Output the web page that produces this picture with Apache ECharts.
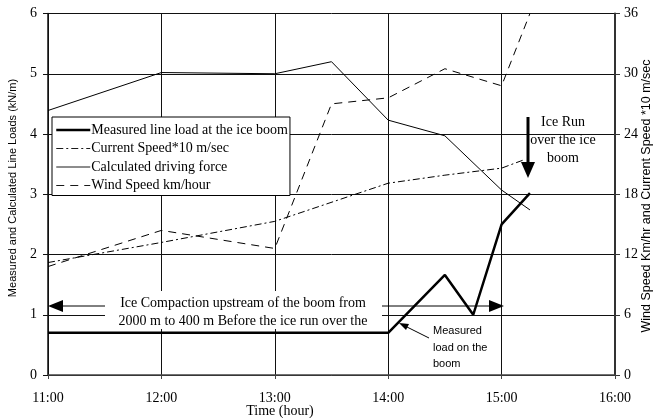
<!DOCTYPE html>
<html>
<head>
<meta charset="utf-8">
<script src="https://cdn.jsdelivr.net/npm/echarts@6/dist/echarts.min.js"></script>
<style>html,body{margin:0;padding:0;background:#fff;}#c{width:654px;height:418px;}</style>
</head>
<body>
<div id="c"></div>
<script>
// Time in decimal hours
const timeMeasured = [11, 14, 14.5, 14.75, 15, 15.25];
const measuredLoad = [0.7, 0.7, 1.66, 1.0, 2.5, 3.02];
const timeForce = [11, 12, 13, 13.5, 14, 14.5, 15, 15.25];
const drivingForce = [4.39, 5.02, 5.0, 5.2, 4.23, 3.97, 3.07, 2.74];
const timeCurrent = [11, 12, 13, 14, 14.5, 15, 15.19];
const currentSpeed = [11.2, 13.2, 15.3, 19.1, 19.9, 20.6, 21.4];
const timeWind = [11, 12, 13, 13.5, 14, 14.5, 15, 15.25];
const windSpeed = [10.8, 14.4, 12.6, 27.0, 27.6, 30.5, 28.8, 36];
const xTicks = [11, 12, 13, 14, 15, 16];
const leftTicks = [0, 1, 2, 3, 4, 5, 6];
const rightTicks = [0, 6, 12, 18, 24, 30, 36];

const names = {
  measured: 'Measured line load at the ice boom',
  current: 'Current Speed*10 m/sec',
  force: 'Calculated driving force',
  wind: 'Wind Speed km/hour'
};
const pair = (xs, ys) => xs.map((x, i) => [x, ys[i]]);
const serif = 'Liberation Serif';
const sans = 'Liberation Sans';

const chart = echarts.init(document.getElementById('c'), null, {renderer: 'canvas'});
chart.setOption({
  animation: false,
  backgroundColor: '#fff',
  grid: {left: 48, right: 39, top: 13.5, bottom: 43},
  legend: {
    data: [
      {name: names.measured, lineStyle: {width: 2.5}},
      {name: names.current, lineStyle: {width: 0.9}},
      {name: names.force, lineStyle: {width: 0.9}},
      {name: names.wind, lineStyle: {width: 0.9}}
    ],
    orient: 'vertical',
    left: 52, top: 117,
    backgroundColor: '#fff',
    borderColor: '#000', borderWidth: 1,
    padding: [6, 2, 3, 3],
    itemWidth: 34, itemHeight: 13, itemGap: 4.5,
    itemStyle: {opacity: 0},
    textStyle: {fontFamily: serif, fontSize: 14, lineHeight: 13, color: '#000', padding: [0, 0, 0, -4]},
    selectedMode: false
  },
  xAxis: {
    type: 'value', min: xTicks[0], max: xTicks[xTicks.length - 1], interval: 1,
    axisLine: {show: true, lineStyle: {color: '#444', width: 1.5}},
    axisTick: {show: true, length: 4, lineStyle: {color: '#444'}},
    splitLine: {show: true, lineStyle: {color: '#111', width: 1}},
    axisLabel: {formatter: v => v + ':00', fontFamily: serif, fontSize: 14, color: '#000', margin: 16}
  },
  yAxis: [{
    type: 'value', min: leftTicks[0], max: leftTicks[leftTicks.length - 1], interval: 1,
    axisLine: {show: true, lineStyle: {color: '#111', width: 1.5}},
    axisTick: {show: true, length: 5, lineStyle: {color: '#111'}},
    splitLine: {show: true, lineStyle: {color: '#111', width: 1}},
    axisLabel: {fontFamily: serif, fontSize: 14, color: '#000', margin: 11}
  }, {
    type: 'value', min: rightTicks[0], max: rightTicks[rightTicks.length - 1], interval: 6,
    position: 'right',
    axisLine: {show: true, lineStyle: {color: '#333', width: 2}},
    axisTick: {show: true, length: 5, lineStyle: {color: '#333'}},
    splitLine: {show: false},
    axisLabel: {fontFamily: serif, fontSize: 14, color: '#000', margin: 9}
  }],
  series: [{
    name: names.measured, type: 'line', yAxisIndex: 0, symbol: 'none', z: 5,
    data: pair(timeMeasured, measuredLoad),
    lineStyle: {color: '#000', width: 2.5}, itemStyle: {color: '#000'}
  }, {
    name: names.current, type: 'line', yAxisIndex: 1, symbol: 'none',
    data: pair(timeCurrent, currentSpeed),
    lineStyle: {color: '#000', width: 1, type: [7, 3, 2, 3]}, itemStyle: {color: '#000'}
  }, {
    name: names.force, type: 'line', yAxisIndex: 0, symbol: 'none',
    data: pair(timeForce, drivingForce),
    lineStyle: {color: '#000', width: 1}, itemStyle: {color: '#000'}
  }, {
    name: names.wind, type: 'line', yAxisIndex: 1, symbol: 'none',
    data: pair(timeWind, windSpeed),
    lineStyle: {color: '#000', width: 1, type: [8, 6]}, itemStyle: {color: '#000'}
  }],
  graphic: [
    // axis names
    {type: 'text', x: 13, y: 188, rotation: Math.PI / 2,
     style: {text: 'Measured and Calculated Line Loads (kN/m)', fontFamily: sans, fontSize: 11, fill: '#000', align: 'center', verticalAlign: 'middle'}},
    {type: 'text', x: 647, y: 196, rotation: Math.PI / 2,
     style: {text: 'Wind Speed Km/hr and Current Speed *10 m/sec', fontFamily: sans, fontSize: 12.5, fill: '#000', align: 'center', verticalAlign: 'middle'}},
    {type: 'text', x: 280, y: 411,
     style: {text: 'Time (hour)', fontFamily: serif, fontSize: 14, fill: '#000', align: 'center', verticalAlign: 'middle'}},
    // ice compaction double arrow
    {type: 'line', shape: {x1: 60, y1: 306, x2: 491, y2: 306}, style: {stroke: '#000', lineWidth: 1}, z: 10},
    {type: 'polygon', shape: {points: [[48, 306], [63, 300], [63, 312]]}, style: {fill: '#000'}, z: 10},
    {type: 'polygon', shape: {points: [[504, 306], [489, 300], [489, 312]]}, style: {fill: '#000'}, z: 10},
    {type: 'rect', shape: {x: 105, y: 291, width: 277, height: 38}, style: {fill: '#fff'}, z: 11},
    {type: 'text', x: 243, y: 303, z: 12,
     style: {text: 'Ice Compaction upstream of the boom from', fontFamily: serif, fontSize: 14, fill: '#000', align: 'center', verticalAlign: 'middle'}},
    {type: 'text', x: 243, y: 321, z: 12,
     style: {text: '2000 m to 400 m Before the ice run over the', fontFamily: serif, fontSize: 14, fill: '#000', align: 'center', verticalAlign: 'middle'}},
    // measured load callout
    {type: 'line', shape: {x1: 429, y1: 338, x2: 405, y2: 326}, style: {stroke: '#000', lineWidth: 1}, z: 10},
    {type: 'polygon', shape: {points: [[399, 323], [409, 324], [406, 330]]}, style: {fill: '#000'}, z: 10},
    {type: 'text', x: 433, y: 331, z: 12,
     style: {text: 'Measured', fontFamily: sans, fontSize: 11, fill: '#000', align: 'left', verticalAlign: 'middle'}},
    {type: 'text', x: 433, y: 348, z: 12,
     style: {text: 'load on the', fontFamily: sans, fontSize: 11, fill: '#000', align: 'left', verticalAlign: 'middle'}},
    {type: 'text', x: 433, y: 364, z: 12,
     style: {text: 'boom', fontFamily: sans, fontSize: 11, fill: '#000', align: 'left', verticalAlign: 'middle'}},
    // ice run arrow
    {type: 'line', shape: {x1: 528, y1: 117, x2: 528, y2: 164}, style: {stroke: '#000', lineWidth: 3}, z: 10},
    {type: 'polygon', shape: {points: [[528, 178], [521, 162], [535, 162]]}, style: {fill: '#000'}, z: 10},
    {type: 'text', x: 563, y: 122, z: 12,
     style: {text: 'Ice Run', fontFamily: serif, fontSize: 14, fill: '#000', align: 'center', verticalAlign: 'middle'}},
    {type: 'text', x: 563, y: 140, z: 12,
     style: {text: 'over the ice', fontFamily: serif, fontSize: 14, fill: '#000', align: 'center', verticalAlign: 'middle'}},
    {type: 'text', x: 563, y: 158, z: 12,
     style: {text: 'boom', fontFamily: serif, fontSize: 14, fill: '#000', align: 'center', verticalAlign: 'middle'}}
  ]
});
</script>
</body>
</html>
